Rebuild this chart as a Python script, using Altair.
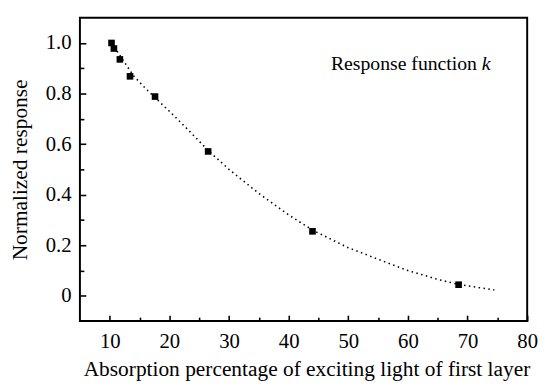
import altair as alt
import pandas as pd

# measured points
x_pts = [10.3, 10.7, 11.7, 13.4, 17.6, 26.5, 44.0, 68.5]
y_pts = [1.0, 0.978, 0.935, 0.868, 0.788, 0.571, 0.255, 0.044]

# dotted fit curve
fit_x = [10.3, 12, 14, 16, 18, 20, 23, 26.5, 30, 35, 40, 44, 50, 55, 60, 65, 68.5, 72, 74.5]
fit_y = [1.0, 0.94, 0.87, 0.82, 0.775, 0.73, 0.66, 0.575, 0.50, 0.405, 0.32, 0.26, 0.19, 0.145, 0.10, 0.065, 0.045, 0.032, 0.023]

x_major = [10, 20, 30, 40, 50, 60, 70, 80]
x_minor = [15, 25, 35, 45, 55, 65, 75]
y_major = [0, 0.2, 0.4, 0.6, 0.8, 1.0]
y_minor = [0.1, 0.3, 0.5, 0.7, 0.9]

x_title = "Absorption percentage of exciting light of first layer"
y_title = "Normalized response"

pts = pd.DataFrame({"x": x_pts, "y": y_pts})
fit = pd.DataFrame({"x": fit_x, "y": fit_y})

W, H = 454, 308
FONT = "Liberation Serif"
FS = 21
TFS = 21.7
MAJ, MIN = 6, 4
xs = alt.Scale(domain=[5, 80], nice=False, zero=False)
ys = alt.Scale(domain=[-0.1, 1.1], nice=False, zero=False)

# inward ticks drawn as short grid dashes (major on one layer's axes, minor on another's)
points = alt.Chart(pts).mark_point(shape="square", filled=True, color="black", size=45, opacity=1).encode(
    x=alt.X("x:Q", scale=xs, axis=alt.Axis(
        orient="bottom", values=x_major, ticks=False, domain=False,
        grid=True, gridColor="black", gridWidth=1.6, gridOpacity=1, gridDash=[MAJ, H - MAJ], gridDashOffset=MAJ,
        labelFontSize=FS, labelPadding=10, labelFlush=False, labelOverlap=False,
        labelFont=FONT, titleFont=FONT, labelColor="black",
        title=x_title, titleFontSize=TFS, titleFontWeight="normal", titleColor="black", titlePadding=7,
        titleX=W / 2 + 3)),
    y=alt.Y("y:Q", scale=ys, axis=alt.Axis(
        orient="left", values=y_major, ticks=False, domain=False,
        grid=True, gridColor="black", gridWidth=1.6, gridOpacity=1, gridDash=[MAJ, W - MAJ], gridDashOffset=0,
        labelFontSize=FS, labelPadding=9, labelFlush=False, labelOverlap=False,
        labelFont=FONT, titleFont=FONT, labelColor="black",
        labelExpr="datum.value == 0 ? '0' : format(datum.value, '.1f')",
        title=y_title, titleFontSize=TFS, titleFontWeight="normal", titleColor="black", titlePadding=14)),
)

line = alt.Chart(fit).mark_line(color="black", strokeDash=[1.5, 3.5], strokeWidth=1.6).encode(
    x=alt.X("x:Q", scale=xs, axis=alt.Axis(
        orient="bottom", values=x_minor, ticks=False, domain=False, labels=False, title=None,
        grid=True, gridColor="black", gridWidth=1.6, gridOpacity=1, gridDash=[MIN, H - MIN], gridDashOffset=MIN)),
    y=alt.Y("y:Q", scale=ys, axis=alt.Axis(
        orient="left", values=y_minor, ticks=False, domain=False, labels=False, title=None,
        grid=True, gridColor="black", gridWidth=1.6, gridOpacity=1, gridDash=[MIN, W - MIN], gridDashOffset=0)),
    order="x:Q",
)

label1 = alt.Chart(pd.DataFrame({"t": ["Response function"]})).mark_text(
    align="right", baseline="alphabetic", font=FONT, fontSize=20, color="black"
).encode(x=alt.value(403), y=alt.value(53), text="t:N")
label2 = alt.Chart(pd.DataFrame({"t": ["k"]})).mark_text(
    align="left", baseline="alphabetic", font=FONT, fontSize=20, fontStyle="italic", color="black"
).encode(x=alt.value(408), y=alt.value(53), text="t:N")

chart = alt.layer(points, line, label1, label2).resolve_axis(x="independent", y="independent").properties(
    width=W, height=H,
    autosize=alt.AutoSizeParams(type="none"),
    padding={"left": 73, "top": 7, "right": 12, "bottom": 60},
).configure(font=FONT).configure_view(stroke="black", strokeWidth=2)

chart.save("out.html", embed_options={"renderer": "svg", "actions": False})
